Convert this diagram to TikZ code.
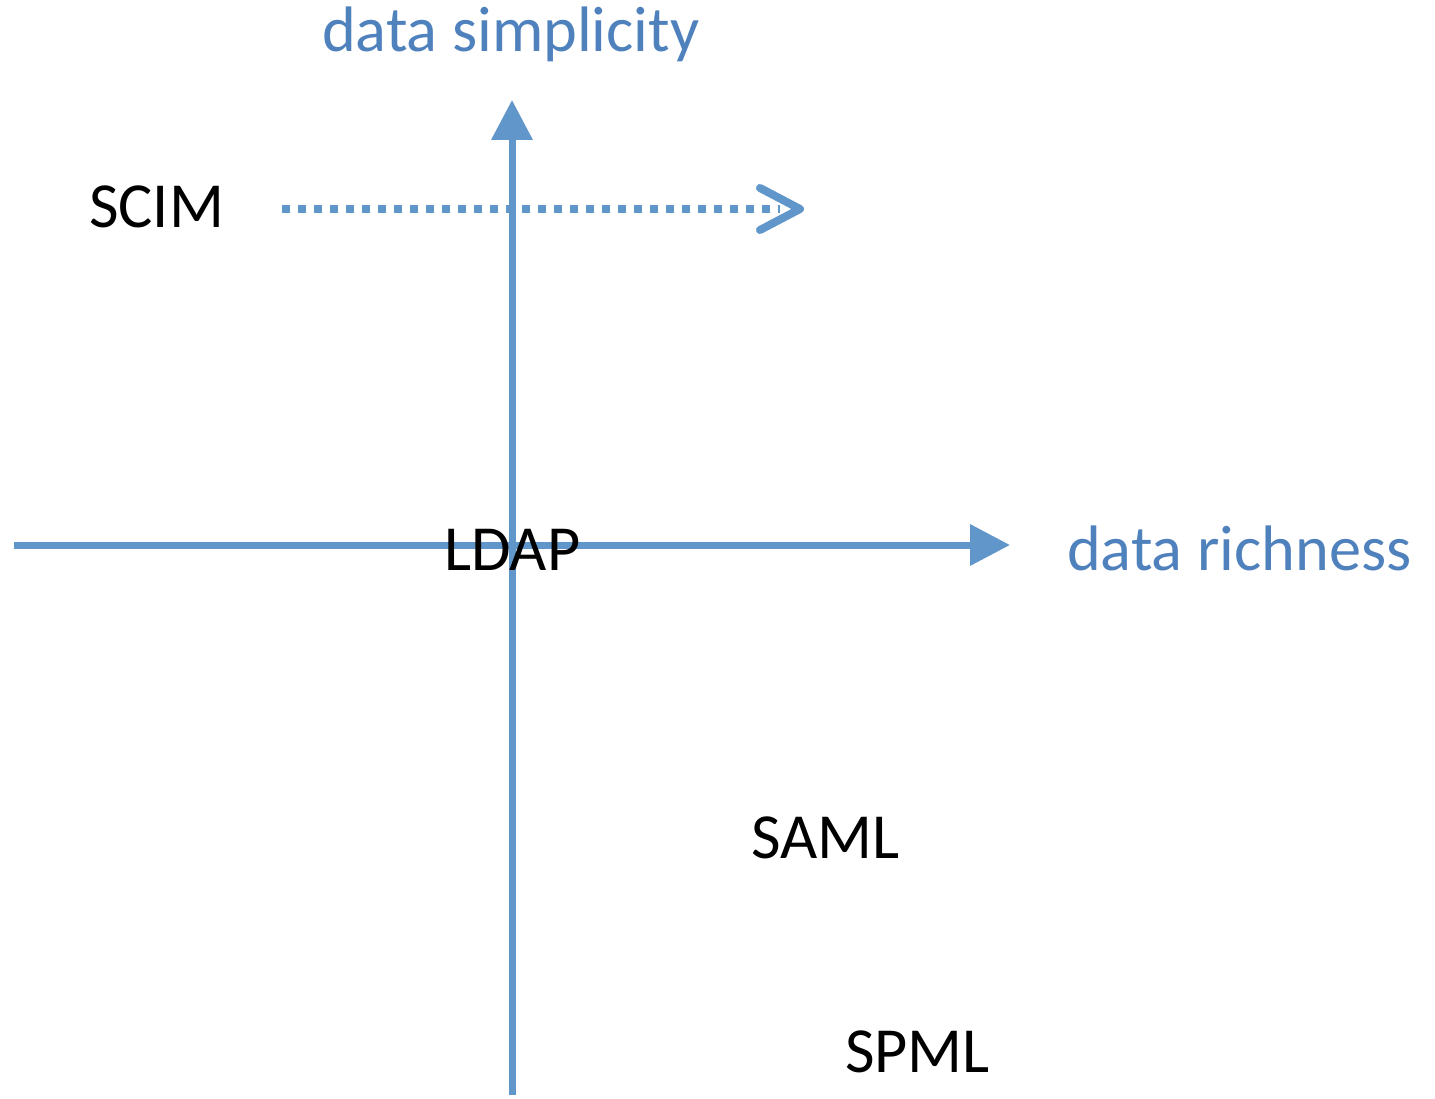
\documentclass[tikz,border=0pt]{standalone}
\usepackage{fontspec}
\setmainfont{Carlito}
\usetikzlibrary{arrows.meta}
\definecolor{axisblue}{RGB}{96,150,202}
\definecolor{labelblue}{RGB}{79,129,189}
\begin{document}
\begin{tikzpicture}[x=1pt,y=-1pt,
  axisline/.style={draw=axisblue,line width=7pt,-{Triangle[length=40pt,width=40pt]}},
  lab/.style={font=\fontsize{64.3}{70}\selectfont,inner sep=0pt,anchor=base west},
  axlab/.style={lab,text=labelblue}]
\useasboundingbox (0,0) rectangle (1435,1099);
\coordinate (vbot) at (512,1095);
\coordinate (vtop) at (512,100);
\coordinate (hleft) at (14,545);
\coordinate (hright) at (1010,545);
\coordinate (dstart) at (282,209);
\coordinate (dend) at (780,209);
\coordinate (cTop) at (760,188);
\coordinate (cTip) at (800,209);
\coordinate (cBot) at (760,230);
\draw[axisline] (vbot) -- (vtop);
\draw[axisline] (hleft) -- (hright);
\draw[axisblue,line width=8pt,dash pattern=on 8pt off 8pt] (dstart) -- (dend);
\draw[axisblue,line width=8pt,line cap=round,line join=round] (cTop) -- (cTip) -- (cBot);
\node[axlab] (ysimp) at (322,52) {data simplicity};
\node[axlab] (xrich) at (1067,570) {data richness};
\node[lab] (scim) at (89,228) {SCIM};
\node[lab] (ldap) at (444,570) {LDAP};
\node[lab] (saml) at (751,858) {SAML};
\node[lab] (spml) at (845,1072) {SPML};
\end{tikzpicture}
\end{document}
